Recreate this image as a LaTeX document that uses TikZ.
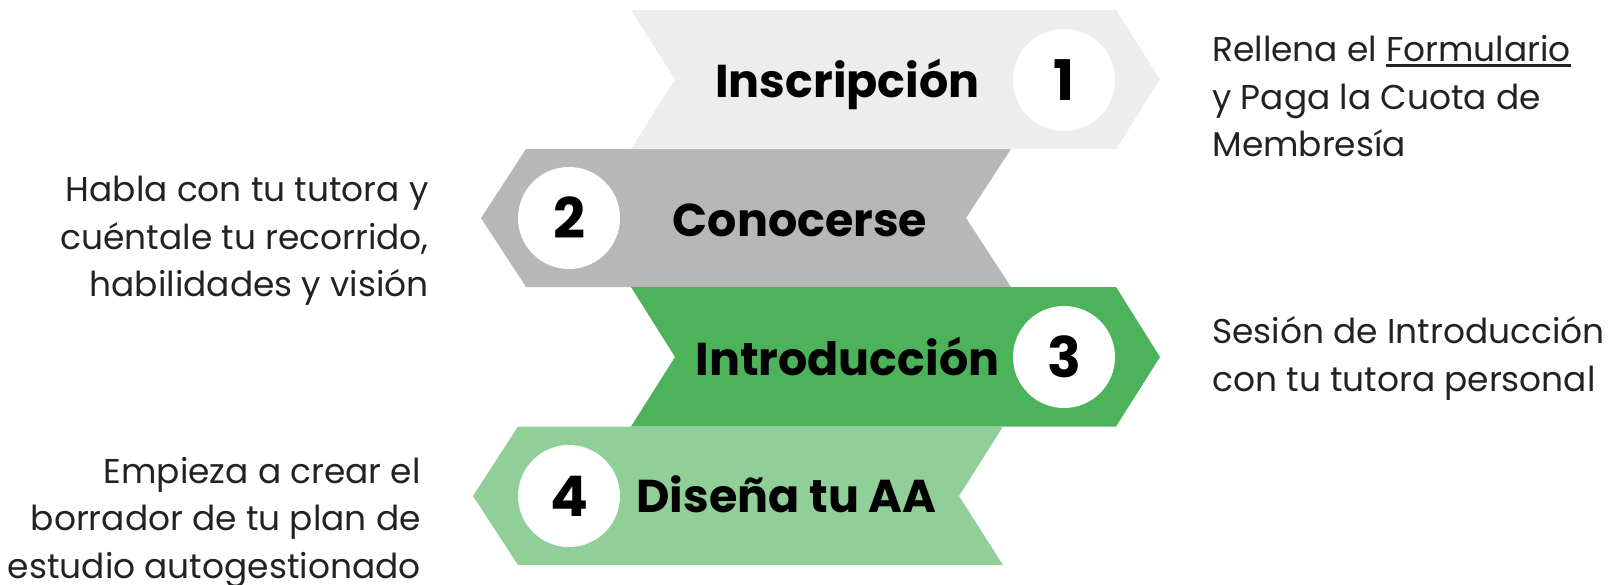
\documentclass[tikz,border=0pt]{standalone}
\usepackage{fontspec}
\setmainfont{Poppins}
\definecolor{chevgray}{HTML}{EDEDED}
\definecolor{chevdark}{HTML}{B7B7B7}
\definecolor{chevgreen}{HTML}{4CB35A}
\definecolor{chevlight}{HTML}{90CF97}
\definecolor{desctext}{HTML}{222222}
\newcommand\formline[1]{\setbox0\hbox{#1}\rlap{\rule[-2.6pt]{\wd0}{1.4pt}}#1}
\begin{document}
\begin{tikzpicture}[x=0.5pt,y=-0.5pt,
    stepnum/.style={circle,fill=white,minimum size=51pt,inner sep=0pt,font=\bfseries\fontsize{28}{28}\selectfont},
    steptitle/.style={anchor=base,inner sep=0pt,font=\bfseries\fontsize{23}{28}\selectfont},
    stepdesc/.style={inner sep=0pt,text=desctext,font=\fontsize{17.2}{23.75}\selectfont}]
    \useasboundingbox (0,0) rectangle (1612,584);
    \fill[fill=chevgray,line width=0] (631,10) -- (1116,10) -- (1160,79.5) -- (1116,149) -- (631,149) -- (675,79.5) -- cycle;
    \fill[fill=chevdark,line width=0] (526,149) -- (1011,149) -- (966,218) -- (1011,287) -- (526,287) -- (481,218) -- cycle;
    \fill[fill=chevgreen,line width=0] (631,287) -- (1116,287) -- (1160,357) -- (1116,426.5) -- (631,426.5) -- (675,357) -- cycle;
    \fill[fill=chevlight,line width=0] (518,426.5) -- (1003,426.5) -- (959,496) -- (1003,565) -- (518,565) -- (473,496) -- cycle;
    \node[stepnum] (num1) at (1064,80) {1};
    \node[stepnum] (num2) at (569,218) {2};
    \node[stepnum] (num3) at (1064,357) {3};
    \node[stepnum] (num4) at (569,496) {4};
    \node[steptitle] (title1) at (847.5,97) {Inscripción};
    \node[steptitle] (title2) at (800,236) {Conocerse};
    \node[steptitle] (title3) at (847.5,375) {Introducción};
    \node[steptitle] (title4) at (786.5,512) {Diseña tu AA};
    \node[stepdesc,anchor=base west,align=left] (desc1) at (1212,156.7) {Rellena el \formline{Formulario}\\y Paga la Cuota de\\Membresía};
    \node[stepdesc,anchor=base east,align=right] (desc2) at (429,296.7) {Habla con tu tutora y\\cuéntale tu recorrido,\\habilidades y visión};
    \node[stepdesc,anchor=base west,align=left] (desc3) at (1212,391) {Sesión de Introducción\\con tu tutora personal};
    \node[stepdesc,anchor=base east,align=right] (desc4) at (421,578.3) {Empieza a crear el\\borrador de tu plan de\\estudio autogestionado};
\end{tikzpicture}
\end{document}
